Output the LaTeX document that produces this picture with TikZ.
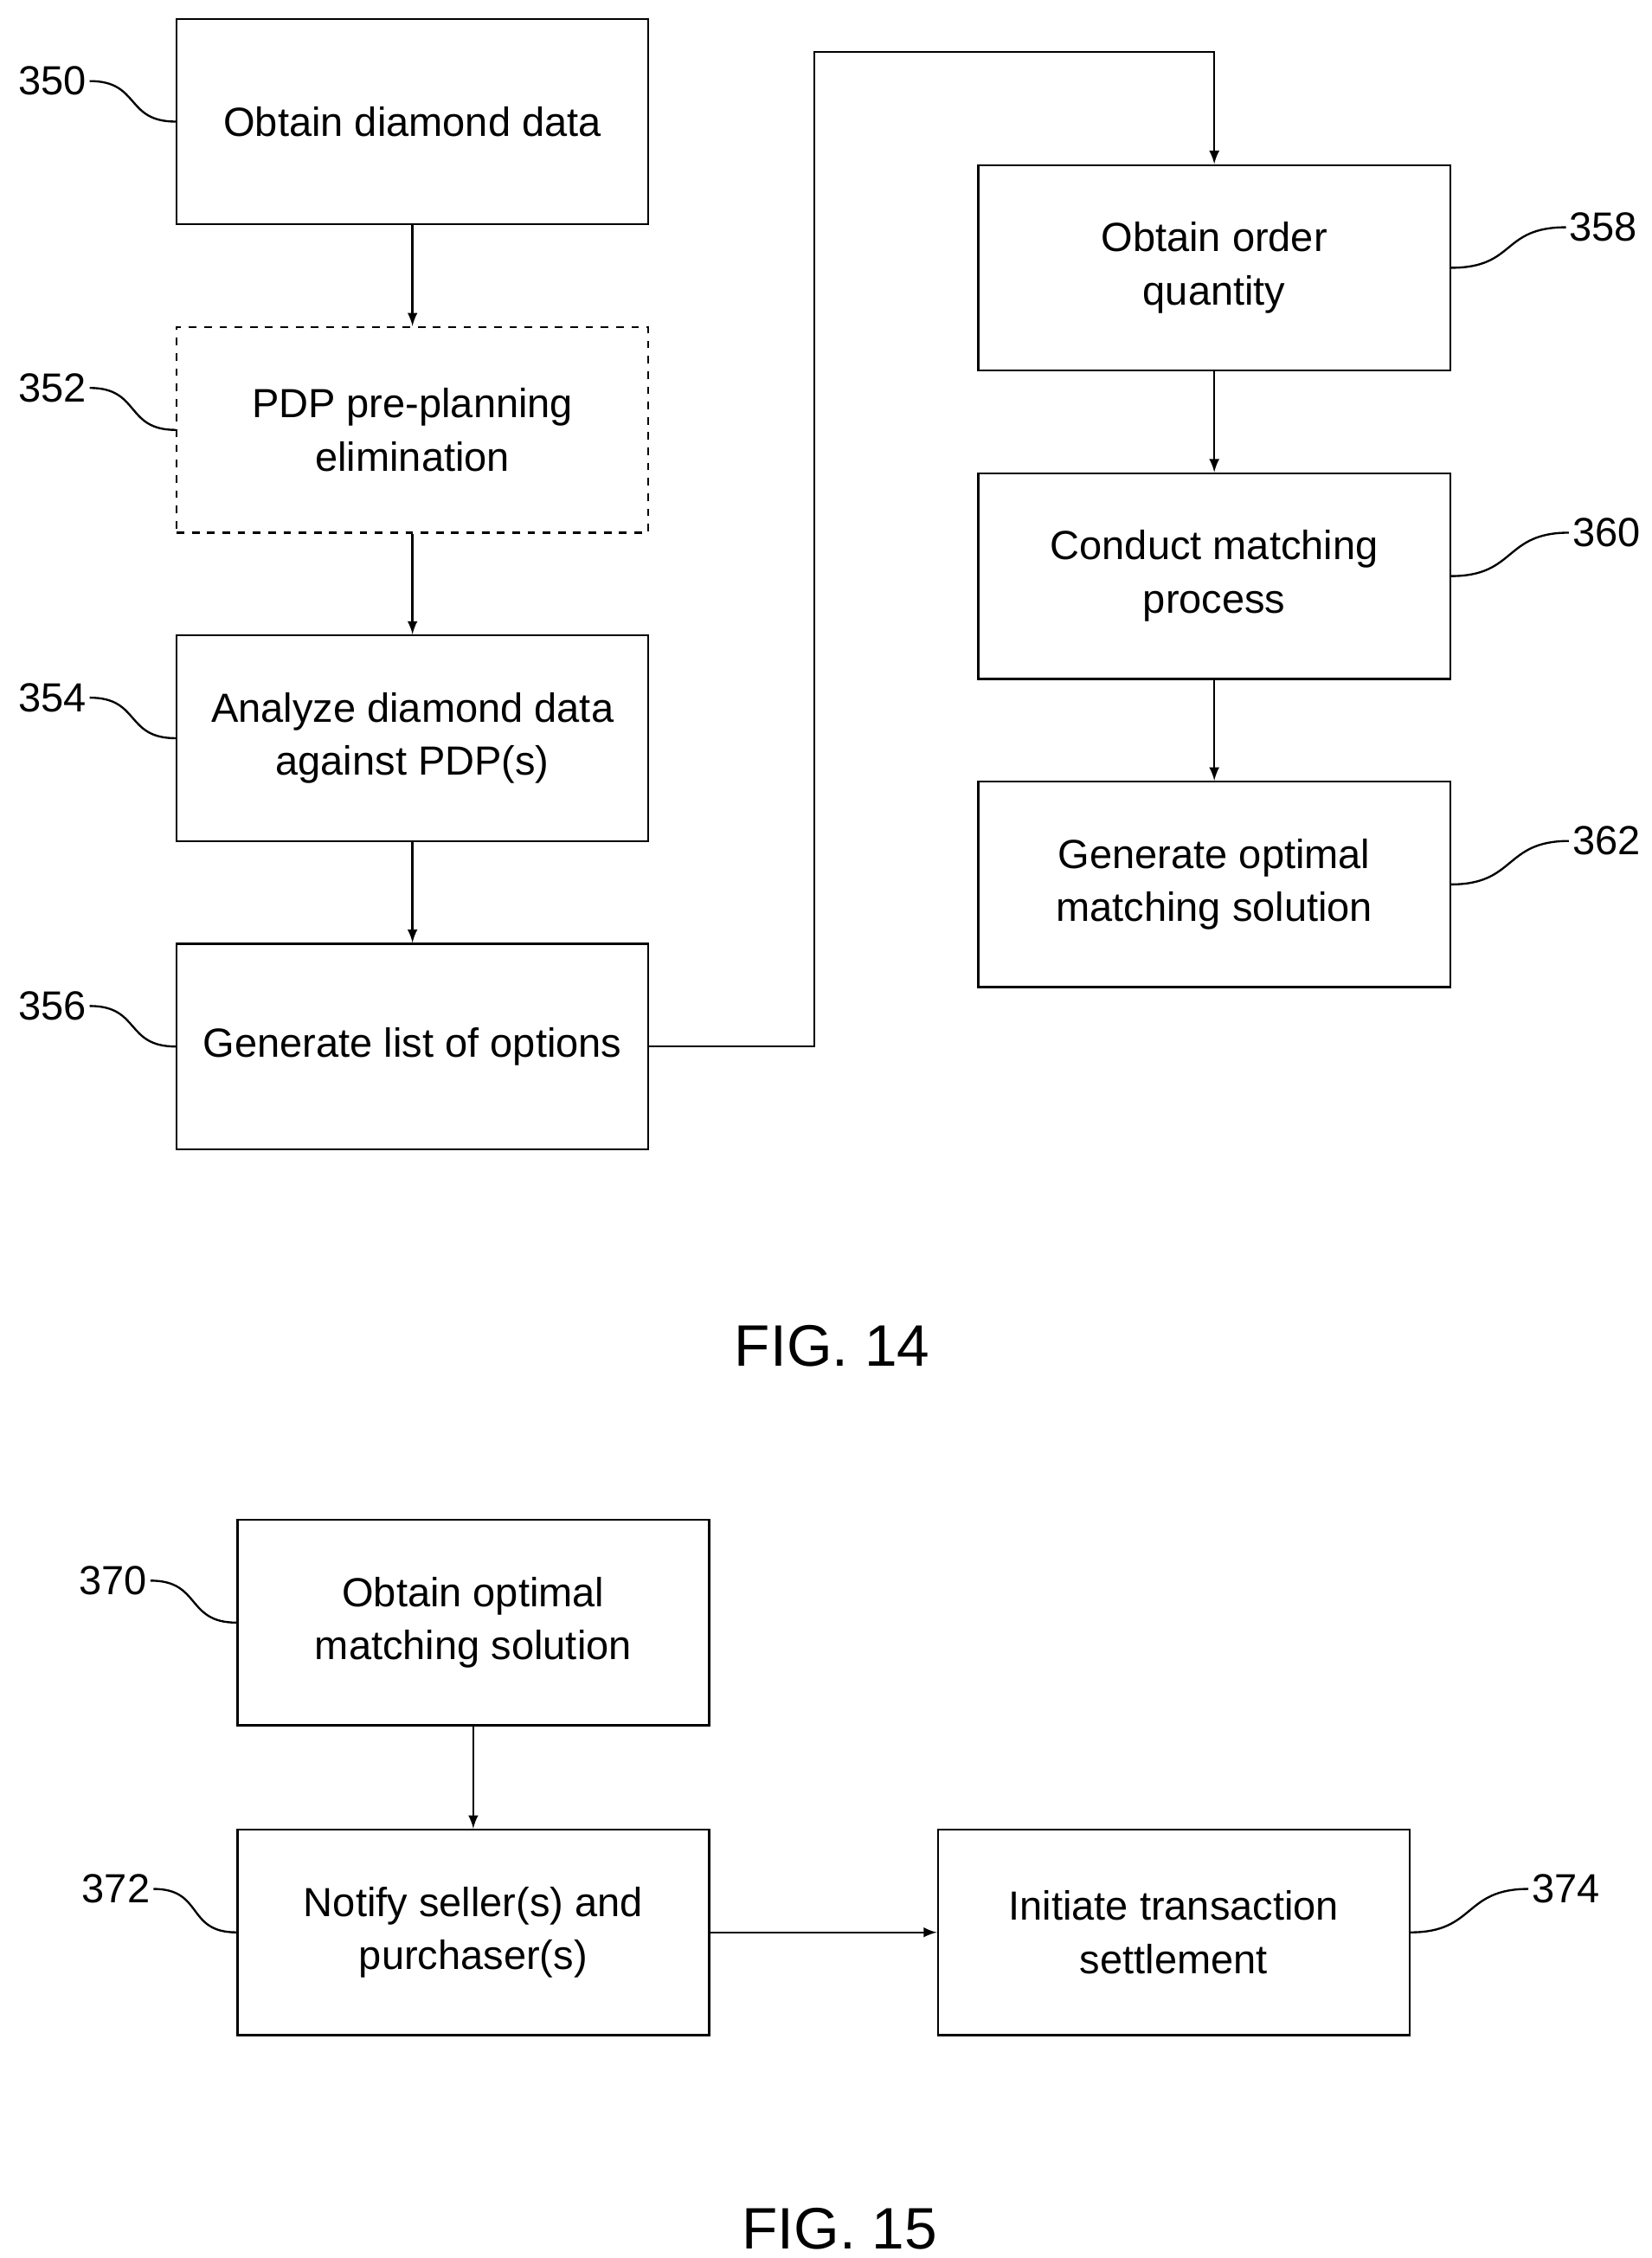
\documentclass[tikz,border=0pt]{standalone}
\usepackage{fontspec}
\setmainfont{Liberation Sans}
\usetikzlibrary{arrows, positioning, calc}
\tikzset{
  stepbox/.style = {draw=black, thick, minimum width=6.52cm, minimum height=2.84cm, align=center, font=\fontsize{16}{21}\selectfont},
  dashbox/.style = {stepbox, dashed},
  refnum/.style = {font=\fontsize{16}{19}\selectfont, inner sep=1pt},
  figlabel/.style = {font=\fontsize{23}{27}\selectfont},
  lead/.style = {thick, -}
}
\begin{document}
\begin{tikzpicture}[->,>=latex, thick, x=0.02cm, y=-0.02cm]
  \useasboundingbox (0,0) rectangle (1141,1560);
  % FIG. 14
  \node [stepbox] (obtain) at (285,84) {Obtain diamond data};
  \node [dashbox] (prep) at (285,297) {PDP pre-planning\\elimination};
  \node [stepbox] (analyze) at (285,510) {Analyze diamond data\\against PDP(s)};
  \node [stepbox] (list) at (285,723) {Generate list of options};
  \node [stepbox] (order) at (839,185) {Obtain order\\quantity};
  \node [stepbox] (match) at (839,398) {Conduct matching\\process};
  \node [stepbox] (optimal) at (839,611) {Generate optimal\\matching solution};
  \node [figlabel] (fig14) at (575,930) {FIG. 14};
  \draw (obtain) -- (prep);
  \draw (prep) -- (analyze);
  \draw (analyze) -- (list);
  \draw (list.east) -- ++(114,0) |- (839,36) -- (order.north);
  \draw (order) -- (match);
  \draw (match) -- (optimal);
  % reference numerals
  \node [refnum, anchor=east] (n350) at (62,56) {350};
  \node [refnum, anchor=east] (n352) at (62,268) {352};
  \node [refnum, anchor=east] (n354) at (62,482) {354};
  \node [refnum, anchor=east] (n356) at (62,695) {356};
  \node [refnum, anchor=west] (n358) at (1082,157) {358};
  \node [refnum, anchor=west] (n360) at (1084,368) {360};
  \node [refnum, anchor=west] (n362) at (1084,581) {362};
  \draw [lead] (n350.east) .. controls +(35,0) and +(-35,0) .. (obtain.west);
  \draw [lead] (n352.east) .. controls +(35,0) and +(-35,0) .. (prep.west);
  \draw [lead] (n354.east) .. controls +(35,0) and +(-35,0) .. (analyze.west);
  \draw [lead] (n356.east) .. controls +(35,0) and +(-35,0) .. (list.west);
  \draw [lead] (n358.west) .. controls +(-45,0) and +(45,0) .. (order.east);
  \draw [lead] (n360.west) .. controls +(-45,0) and +(45,0) .. (match.east);
  \draw [lead] (n362.west) .. controls +(-45,0) and +(45,0) .. (optimal.east);
  % FIG. 15
  \node [stepbox] (obtainsol) at (327,1121) {Obtain optimal\\matching solution};
  \node [stepbox] (notify) at (327,1335) {Notify seller(s) and\\purchaser(s)};
  \node [stepbox] (settle) at (811,1335) {Initiate transaction\\settlement};
  \node [figlabel] (fig15) at (580,1540) {FIG. 15};
  \draw (obtainsol) -- (notify);
  \draw (notify) -- (settle);
  \node [refnum, anchor=east] (n370) at (104,1092) {370};
  \node [refnum, anchor=east] (n372) at (106,1305) {372};
  \node [refnum, anchor=west] (n374) at (1056,1305) {374};
  \draw [lead] (n370.east) .. controls +(35,0) and +(-35,0) .. (obtainsol.west);
  \draw [lead] (n372.east) .. controls +(35,0) and +(-35,0) .. (notify.west);
  \draw [lead] (n374.west) .. controls +(-45,0) and +(45,0) .. (settle.east);
\end{tikzpicture}
\end{document}
